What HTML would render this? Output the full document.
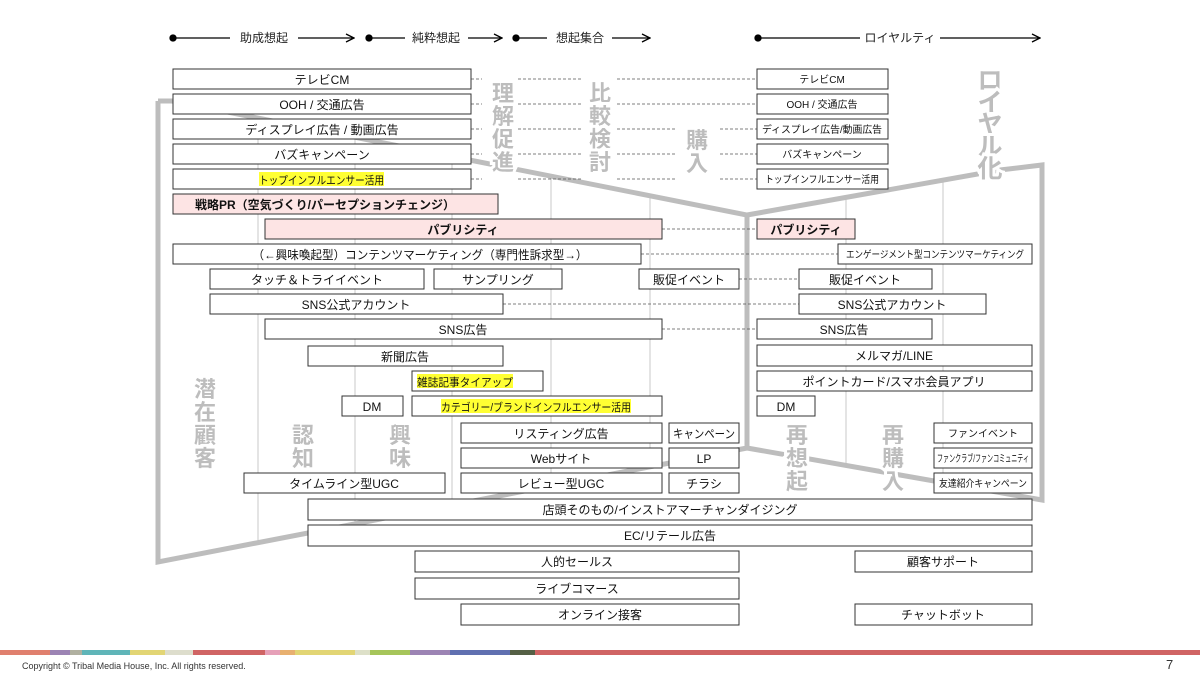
<!DOCTYPE html>
<html><head><meta charset="utf-8"><style>
html,body{margin:0;padding:0;background:#fff;}
svg text{font-family:"Liberation Sans","Noto Sans CJK JP",sans-serif;}
.big text{paint-order:stroke;stroke:#fff;stroke-width:6px;}
</style></head><body>
<svg width="1200" height="675" viewBox="0 0 1200 675" xmlns="http://www.w3.org/2000/svg">
<defs>
<clipPath id="cl"><polygon points="158,101 172,101 747,215 747,448 158,562"/></clipPath>
<clipPath id="cr"><polygon points="747,215 1042,163 1042,500 747,448"/></clipPath>
<marker id="ar" markerWidth="10" markerHeight="10" refX="9" refY="5" orient="auto" markerUnits="userSpaceOnUse"><path d="M1,1 L9,5 L1,9" fill="none" stroke="#000" stroke-width="1.3"/></marker>
</defs>
<g stroke="#000" stroke-width="1.3" fill="#000">
<circle cx="173" cy="38" r="3"/><line x1="173" y1="38" x2="230" y2="38"/><line x1="298" y1="38" x2="354" y2="38" marker-end="url(#ar)"/>
<circle cx="369" cy="38" r="3"/><line x1="369" y1="38" x2="405" y2="38"/><line x1="468" y1="38" x2="502" y2="38" marker-end="url(#ar)"/>
<circle cx="516" cy="38" r="3"/><line x1="516" y1="38" x2="547" y2="38"/><line x1="612" y1="38" x2="650" y2="38" marker-end="url(#ar)"/>
<circle cx="758" cy="38" r="3"/><line x1="758" y1="38" x2="860" y2="38"/><line x1="940" y1="38" x2="1040" y2="38" marker-end="url(#ar)"/>
</g>
<g font-size="12" fill="#222">
<text x="264" y="42" text-anchor="middle">助成想起</text>
<text x="436" y="42" text-anchor="middle">純粋想起</text>
<text x="580" y="42" text-anchor="middle">想起集合</text>
<text x="900" y="42" text-anchor="middle">ロイヤルティ</text>
</g>
<g stroke="#c8c8c8" stroke-width="1">
<g clip-path="url(#cl)"><line x1="258" y1="90" x2="258" y2="570"/><line x1="355" y1="90" x2="355" y2="570"/><line x1="452" y1="90" x2="452" y2="570"/><line x1="551" y1="90" x2="551" y2="570"/><line x1="650" y1="90" x2="650" y2="570"/></g>
<g clip-path="url(#cr)"><line x1="846" y1="150" x2="846" y2="510"/><line x1="943" y1="150" x2="943" y2="510"/></g>
</g>
<g stroke="#bdbdbd" stroke-width="5" fill="none" stroke-linejoin="miter">
<polyline points="158,101 172,101 747,215 747,448 158,562 158,101"/>
<polyline points="747,215 1000,170 1042,165 1042,500 747,448"/>
</g>
<g stroke="#555" stroke-width="0.8" stroke-dasharray="3,2">
<path d="M471,79H482M518,79H583M617,79H757"/>
<path d="M471,104H482M518,104H583M617,104H757"/>
<path d="M471,129H482M518,129H583M617,129H675M720,129H757"/>
<path d="M471,154H482M518,154H583M617,154H675M720,154H757"/>
<path d="M471,179H482M518,179H583M617,179H675M720,179H757"/>
<path d="M662,229H757M641,254H838M739,279H799M503,304H799M662,329H757"/>
</g>
<g class="big" fill="#bdbdbd" font-weight="bold" font-size="22" text-anchor="middle">
<text x="503" y="101">理</text><text x="503" y="124">解</text><text x="503" y="147">促</text><text x="503" y="170">進</text>
<text x="600" y="101">比</text><text x="600" y="124">較</text><text x="600" y="147">検</text><text x="600" y="170">討</text>
<text x="697" y="148">購</text><text x="697" y="171">入</text>
<text x="205" y="397">潜</text><text x="205" y="420">在</text><text x="205" y="443">顧</text><text x="205" y="466">客</text>
<text x="303" y="443">認</text><text x="303" y="466">知</text>
<text x="400" y="443">興</text><text x="400" y="466">味</text>
<text x="797" y="443">再</text><text x="797" y="466">想</text><text x="797" y="489">起</text>
<text x="893" y="443">再</text><text x="893" y="466">購</text><text x="893" y="489">入</text>
<g font-size="25"><text x="990" y="89">ロ</text><text x="990" y="111">イ</text><text x="990" y="133">ヤ</text><text x="990" y="155">ル</text><text x="990" y="177">化</text></g>
</g>
<g stroke="#333" stroke-width="1" fill="#fff">
<rect x="173" y="69" width="298" height="20"/><rect x="173" y="94" width="298" height="20"/><rect x="173" y="119" width="298" height="20"/><rect x="173" y="144" width="298" height="20"/><rect x="173" y="169" width="298" height="20"/>
<rect x="173" y="194" width="325" height="20" fill="#fde4e4"/>
<rect x="265" y="219" width="397" height="20" fill="#fde4e4"/>
<rect x="173" y="244" width="468" height="20"/>
<rect x="210" y="269" width="214" height="20"/><rect x="434" y="269" width="128" height="20"/><rect x="639" y="269" width="100" height="20"/>
<rect x="210" y="294" width="293" height="20"/>
<rect x="265" y="319" width="397" height="20"/>
<rect x="308" y="346" width="195" height="20"/>
<rect x="412" y="371" width="131" height="20"/>
<rect x="342" y="396" width="61" height="20"/><rect x="412" y="396" width="250" height="20"/>
<rect x="461" y="423" width="201" height="20"/><rect x="669" y="423" width="70" height="20"/>
<rect x="461" y="448" width="201" height="20"/><rect x="669" y="448" width="70" height="20"/>
<rect x="244" y="473" width="201" height="20"/><rect x="461" y="473" width="201" height="20"/><rect x="669" y="473" width="70" height="20"/>
<rect x="308" y="499" width="724" height="21"/><rect x="308" y="525" width="724" height="21"/>
<rect x="415" y="551" width="324" height="21"/><rect x="415" y="578" width="324" height="21"/><rect x="461" y="604" width="278" height="21"/>
<rect x="757" y="69" width="131" height="20"/><rect x="757" y="94" width="131" height="20"/><rect x="757" y="119" width="131" height="20"/><rect x="757" y="144" width="131" height="20"/><rect x="757" y="169" width="131" height="20"/>
<rect x="757" y="219" width="98" height="20" fill="#fde4e4"/>
<rect x="838" y="244" width="194" height="20"/>
<rect x="799" y="269" width="133" height="20"/><rect x="799" y="294" width="187" height="20"/>
<rect x="757" y="319" width="175" height="20"/>
<rect x="757" y="345" width="275" height="21"/><rect x="757" y="371" width="275" height="20"/><rect x="757" y="396" width="58" height="20"/>
<rect x="934" y="423" width="98" height="20"/><rect x="934" y="448" width="98" height="20"/><rect x="934" y="473" width="98" height="20"/>
<rect x="855" y="551" width="177" height="21"/><rect x="855" y="604" width="177" height="21"/>
</g>
<g fill="#ffff33">
<rect x="259" y="172" width="125" height="14"/>
<rect x="417" y="374" width="96" height="14"/>
<rect x="441" y="399" width="190" height="14"/>
</g>
<g font-size="12" fill="#111" text-anchor="middle">
<text x="322" y="84">テレビCM</text><text x="322" y="109">OOH / 交通広告</text><text x="322" y="134">ディスプレイ広告 / 動画広告</text><text x="322" y="159">バズキャンペーン</text>
<text x="321.5" y="184" font-size="11" textLength="125" lengthAdjust="spacingAndGlyphs">トップインフルエンサー活用</text>
<text x="325" y="209" font-weight="bold" textLength="260" lengthAdjust="spacingAndGlyphs">戦略PR（空気づくり/パーセプションチェンジ）</text>
<text x="463" y="234" font-weight="bold">パブリシティ</text>
<text x="420" y="259" textLength="335" lengthAdjust="spacingAndGlyphs">（←興味喚起型）コンテンツマーケティング（専門性訴求型→）</text>
<text x="317" y="284">タッチ＆トライイベント</text><text x="498" y="284">サンプリング</text><text x="689" y="284">販促イベント</text>
<text x="356" y="309">SNS公式アカウント</text>
<text x="463" y="334">SNS広告</text>
<text x="405" y="361">新聞広告</text>
<text x="465" y="386" font-size="11" textLength="96" lengthAdjust="spacingAndGlyphs">雑誌記事タイアップ</text>
<text x="372" y="411">DM</text>
<text x="536" y="411" font-size="11" textLength="190" lengthAdjust="spacingAndGlyphs">カテゴリー/ブランドインフルエンサー活用</text>
<text x="561" y="438">リスティング広告</text><text x="704" y="438" textLength="62" lengthAdjust="spacingAndGlyphs">キャンペーン</text>
<text x="561" y="463">Webサイト</text><text x="704" y="463">LP</text>
<text x="344" y="488">タイムライン型UGC</text><text x="561" y="488">レビュー型UGC</text><text x="704" y="488">チラシ</text>
<text x="670" y="514">店頭そのもの/インストアマーチャンダイジング</text>
<text x="670" y="540">EC/リテール広告</text>
<text x="577" y="566">人的セールス</text><text x="577" y="593">ライブコマース</text><text x="600" y="619">オンライン接客</text>
<text x="806" y="234" font-weight="bold">パブリシティ</text>
<text x="865" y="284">販促イベント</text><text x="892" y="309">SNS公式アカウント</text><text x="844" y="334">SNS広告</text>
<text x="894" y="360">メルマガ/LINE</text><text x="894" y="386">ポイントカード/スマホ会員アプリ</text><text x="786" y="411">DM</text>
<text x="943" y="566">顧客サポート</text><text x="943" y="619">チャットボット</text>
</g>
<g font-size="10" fill="#111" text-anchor="middle">
<text x="822" y="83">テレビCM</text><text x="822" y="108">OOH / 交通広告</text>
<text x="822" y="133" textLength="120" lengthAdjust="spacingAndGlyphs">ディスプレイ広告/動画広告</text>
<text x="822" y="158">バズキャンペーン</text>
<text x="822" y="183" textLength="114" lengthAdjust="spacingAndGlyphs">トップインフルエンサー活用</text>
<text x="935" y="258" textLength="178" lengthAdjust="spacingAndGlyphs">エンゲージメント型コンテンツマーケティング</text>
<text x="983" y="437">ファンイベント</text>
<text x="983" y="462" textLength="92" lengthAdjust="spacingAndGlyphs">ファンクラブ/ファンコミュニティ</text>
<text x="983" y="487" textLength="88" lengthAdjust="spacingAndGlyphs">友達紹介キャンペーン</text>
</g>
<g>
<rect x="0" y="650" width="50" height="5" fill="#e0806e"/>
<rect x="50" y="650" width="20" height="5" fill="#9c84b4"/>
<rect x="70" y="650" width="12" height="5" fill="#b0b0a0"/>
<rect x="82" y="650" width="48" height="5" fill="#5fb5b8"/>
<rect x="130" y="650" width="35" height="5" fill="#e2d574"/>
<rect x="165" y="650" width="28" height="5" fill="#ddddcc"/>
<rect x="193" y="650" width="72" height="5" fill="#d06464"/>
<rect x="265" y="650" width="15" height="5" fill="#e6a0b8"/>
<rect x="280" y="650" width="15" height="5" fill="#e8b070"/>
<rect x="295" y="650" width="60" height="5" fill="#e2d574"/>
<rect x="355" y="650" width="15" height="5" fill="#dde0c8"/>
<rect x="370" y="650" width="40" height="5" fill="#a6c55a"/>
<rect x="410" y="650" width="40" height="5" fill="#9c84b4"/>
<rect x="450" y="650" width="60" height="5" fill="#6070b0"/>
<rect x="510" y="650" width="25" height="5" fill="#556045"/>
<rect x="535" y="650" width="665" height="5" fill="#d06464"/>
</g>
<text x="22" y="669" font-size="9" fill="#333">Copyright © Tribal Media House, Inc. All rights reserved.</text>
<text x="1166" y="669" font-size="13" fill="#333">7</text>
</svg>
</body></html>
